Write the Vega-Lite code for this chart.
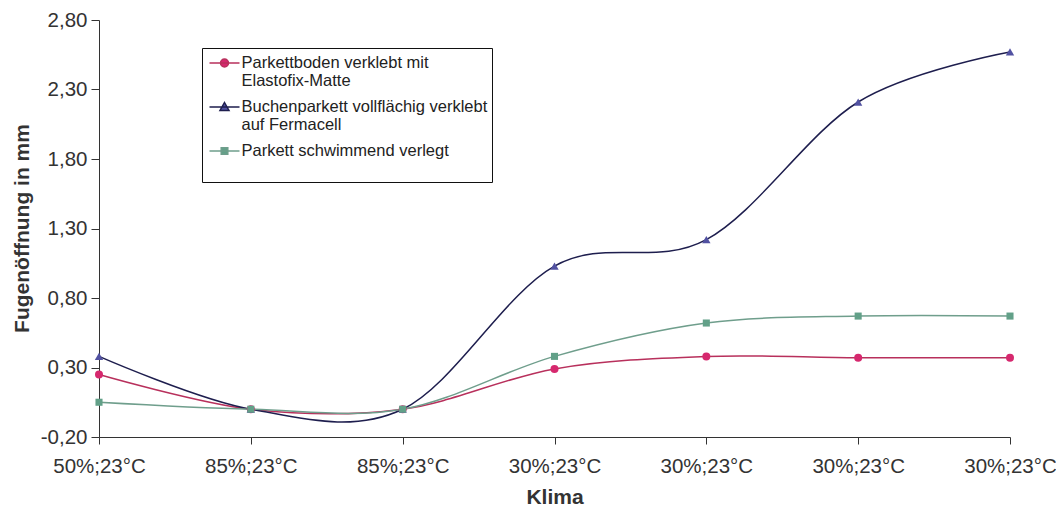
{
  "$schema": "https://vega.github.io/schema/vega-lite/v6.json",
  "width": 911,
  "height": 417,
  "autosize": {"type": "none"},
  "padding": {"left": 99, "top": 20, "right": 46, "bottom": 73},
  "background": "white",
  "config": {"view": {"stroke": null}, "font": "Liberation Sans"},
  "data": {
    "values": [
      {"k": 0, "s": "A", "v": 0.25}, {"k": 1, "s": "A", "v": 0.0}, {"k": 2, "s": "A", "v": 0.0}, {"k": 3, "s": "A", "v": 0.29}, {"k": 4, "s": "A", "v": 0.38}, {"k": 5, "s": "A", "v": 0.37}, {"k": 6, "s": "A", "v": 0.37},
      {"k": 0, "s": "B", "v": 0.38}, {"k": 1, "s": "B", "v": 0.0}, {"k": 2, "s": "B", "v": 0.0}, {"k": 3, "s": "B", "v": 1.03}, {"k": 4, "s": "B", "v": 1.22}, {"k": 5, "s": "B", "v": 2.21}, {"k": 6, "s": "B", "v": 2.57},
      {"k": 0, "s": "C", "v": 0.05}, {"k": 1, "s": "C", "v": 0.0}, {"k": 2, "s": "C", "v": 0.0}, {"k": 3, "s": "C", "v": 0.38}, {"k": 4, "s": "C", "v": 0.62}, {"k": 5, "s": "C", "v": 0.67}, {"k": 6, "s": "C", "v": 0.67}
    ]
  },
  "encoding": {
    "x": {
      "field": "k", "type": "quantitative",
      "scale": {"domain": [0, 6], "nice": false, "zero": false},
      "axis": {
        "title": "Klima",
        "values": [0, 1, 2, 3, 4, 5, 6],
        "labelExpr": "['50%;23°C','85%;23°C','85%;23°C','30%;23°C','30%;23°C','30%;23°C','30%;23°C'][datum.value]",
        "grid": false,
        "domainColor": "#333", "tickColor": "#333", "tickSize": 7,
        "labelPadding": 12, "labelFontSize": 20.5, "labelColor": "#333", "labelFont": "Liberation Sans",
        "labelFlush": false, "labelOverlap": false,
        "titleFont": "Liberation Sans", "titleFontSize": 21, "titleFontWeight": "bold", "titleColor": "#333",
        "titleY": 60, "titleBaseline": "middle"
      }
    },
    "y": {
      "field": "v", "type": "quantitative",
      "scale": {"domain": [-0.2, 2.8], "nice": false, "zero": false},
      "axis": {
        "title": "Fugenöffnung in mm",
        "values": [-0.2, 0.3, 0.8, 1.3, 1.8, 2.3, 2.8],
        "labelExpr": "replace(replace(format(datum.value, '.2f'), '.', ','), '\u2212', '-')",
        "grid": false,
        "domainColor": "#333", "tickColor": "#333", "tickSize": 8,
        "labelPadding": 4, "labelFontSize": 20.5, "labelColor": "#333", "labelFont": "Liberation Sans",
        "labelFlush": false, "labelOverlap": false,
        "titleFont": "Liberation Sans", "titleFontSize": 21, "titleFontWeight": "bold", "titleColor": "#333",
        "titleX": -77, "titleY": 208, "titleBaseline": "middle"
      }
    }
  },
  "layer": [
    {
      "mark": {"type": "line", "interpolate": "cardinal", "tension": 0, "strokeWidth": 1.5},
      "encoding": {
        "color": {
          "field": "s", "type": "nominal",
          "scale": {"domain": ["A", "B", "C"], "range": ["#b8305c", "#1e1e4e", "#6f9e8c"]},
          "legend": {
            "orient": "none", "legendX": 103, "legendY": 28,
            "title": null,
            "strokeColor": "#111", "fillColor": "#fff", "padding": 4,
            "symbolSize": 400, "symbolStrokeWidth": 1.5, "symbolOffset": 7.5,
            "labelFont": "Liberation Sans", "labelFontSize": 16.5, "labelColor": "#222", "labelOffset": 6, "labelLimit": 400,
            "rowPadding": 6,
            "labelExpr": "datum.value === 'A' ? ['Parkettboden verklebt mit', 'Elastofix-Matte'] : datum.value === 'B' ? ['Buchenparkett vollflächig verklebt', 'auf Fermacell'] : ['Parkett schwimmend verlegt', ' ']",
            "encode": {
              "symbols": {
                "update": {
                  "shape": {"signal": "datum.value === 'A' ? 'M-1.5,0H1.5M-0.4,0A0.4,0.4 0 1,0 0.4,0A0.4,0.4 0 1,0 -0.4,0Z' : datum.value === 'B' ? 'M-1.5,0H1.5M0,-0.45L0.45,0.35L-0.45,0.35Z' : 'M-1.5,0H1.5M-0.33,-0.33H0.33V0.33H-0.33Z'"},
                  "fill": {"signal": "datum.value === 'A' ? '#d6286e' : datum.value === 'B' ? '#5252a2' : '#62a088'"},
                  "stroke": {"signal": "datum.value === 'A' ? '#b8305c' : datum.value === 'B' ? '#1e1e4e' : '#6f9e8c'"},
                  "strokeWidth": {"value": 1.5},
                  "opacity": {"value": 1}
                }
              },
              "labels": {"update": {"lineHeight": {"value": 18}}}
            }
          }
        }
      }
    },
    {
      "transform": [{"filter": "datum.s === 'A'"}],
      "mark": {"type": "point", "filled": true, "opacity": 1, "size": 64, "shape": "circle", "color": "#d6286e"}
    },
    {
      "transform": [{"filter": "datum.s === 'B'"}],
      "mark": {"type": "point", "filled": true, "opacity": 1, "size": 70, "shape": "triangle-up", "color": "#5252a2"}
    },
    {
      "transform": [{"filter": "datum.s === 'C'"}],
      "mark": {"type": "point", "filled": true, "opacity": 1, "size": 50, "shape": "square", "color": "#62a088"}
    }
  ]
}
